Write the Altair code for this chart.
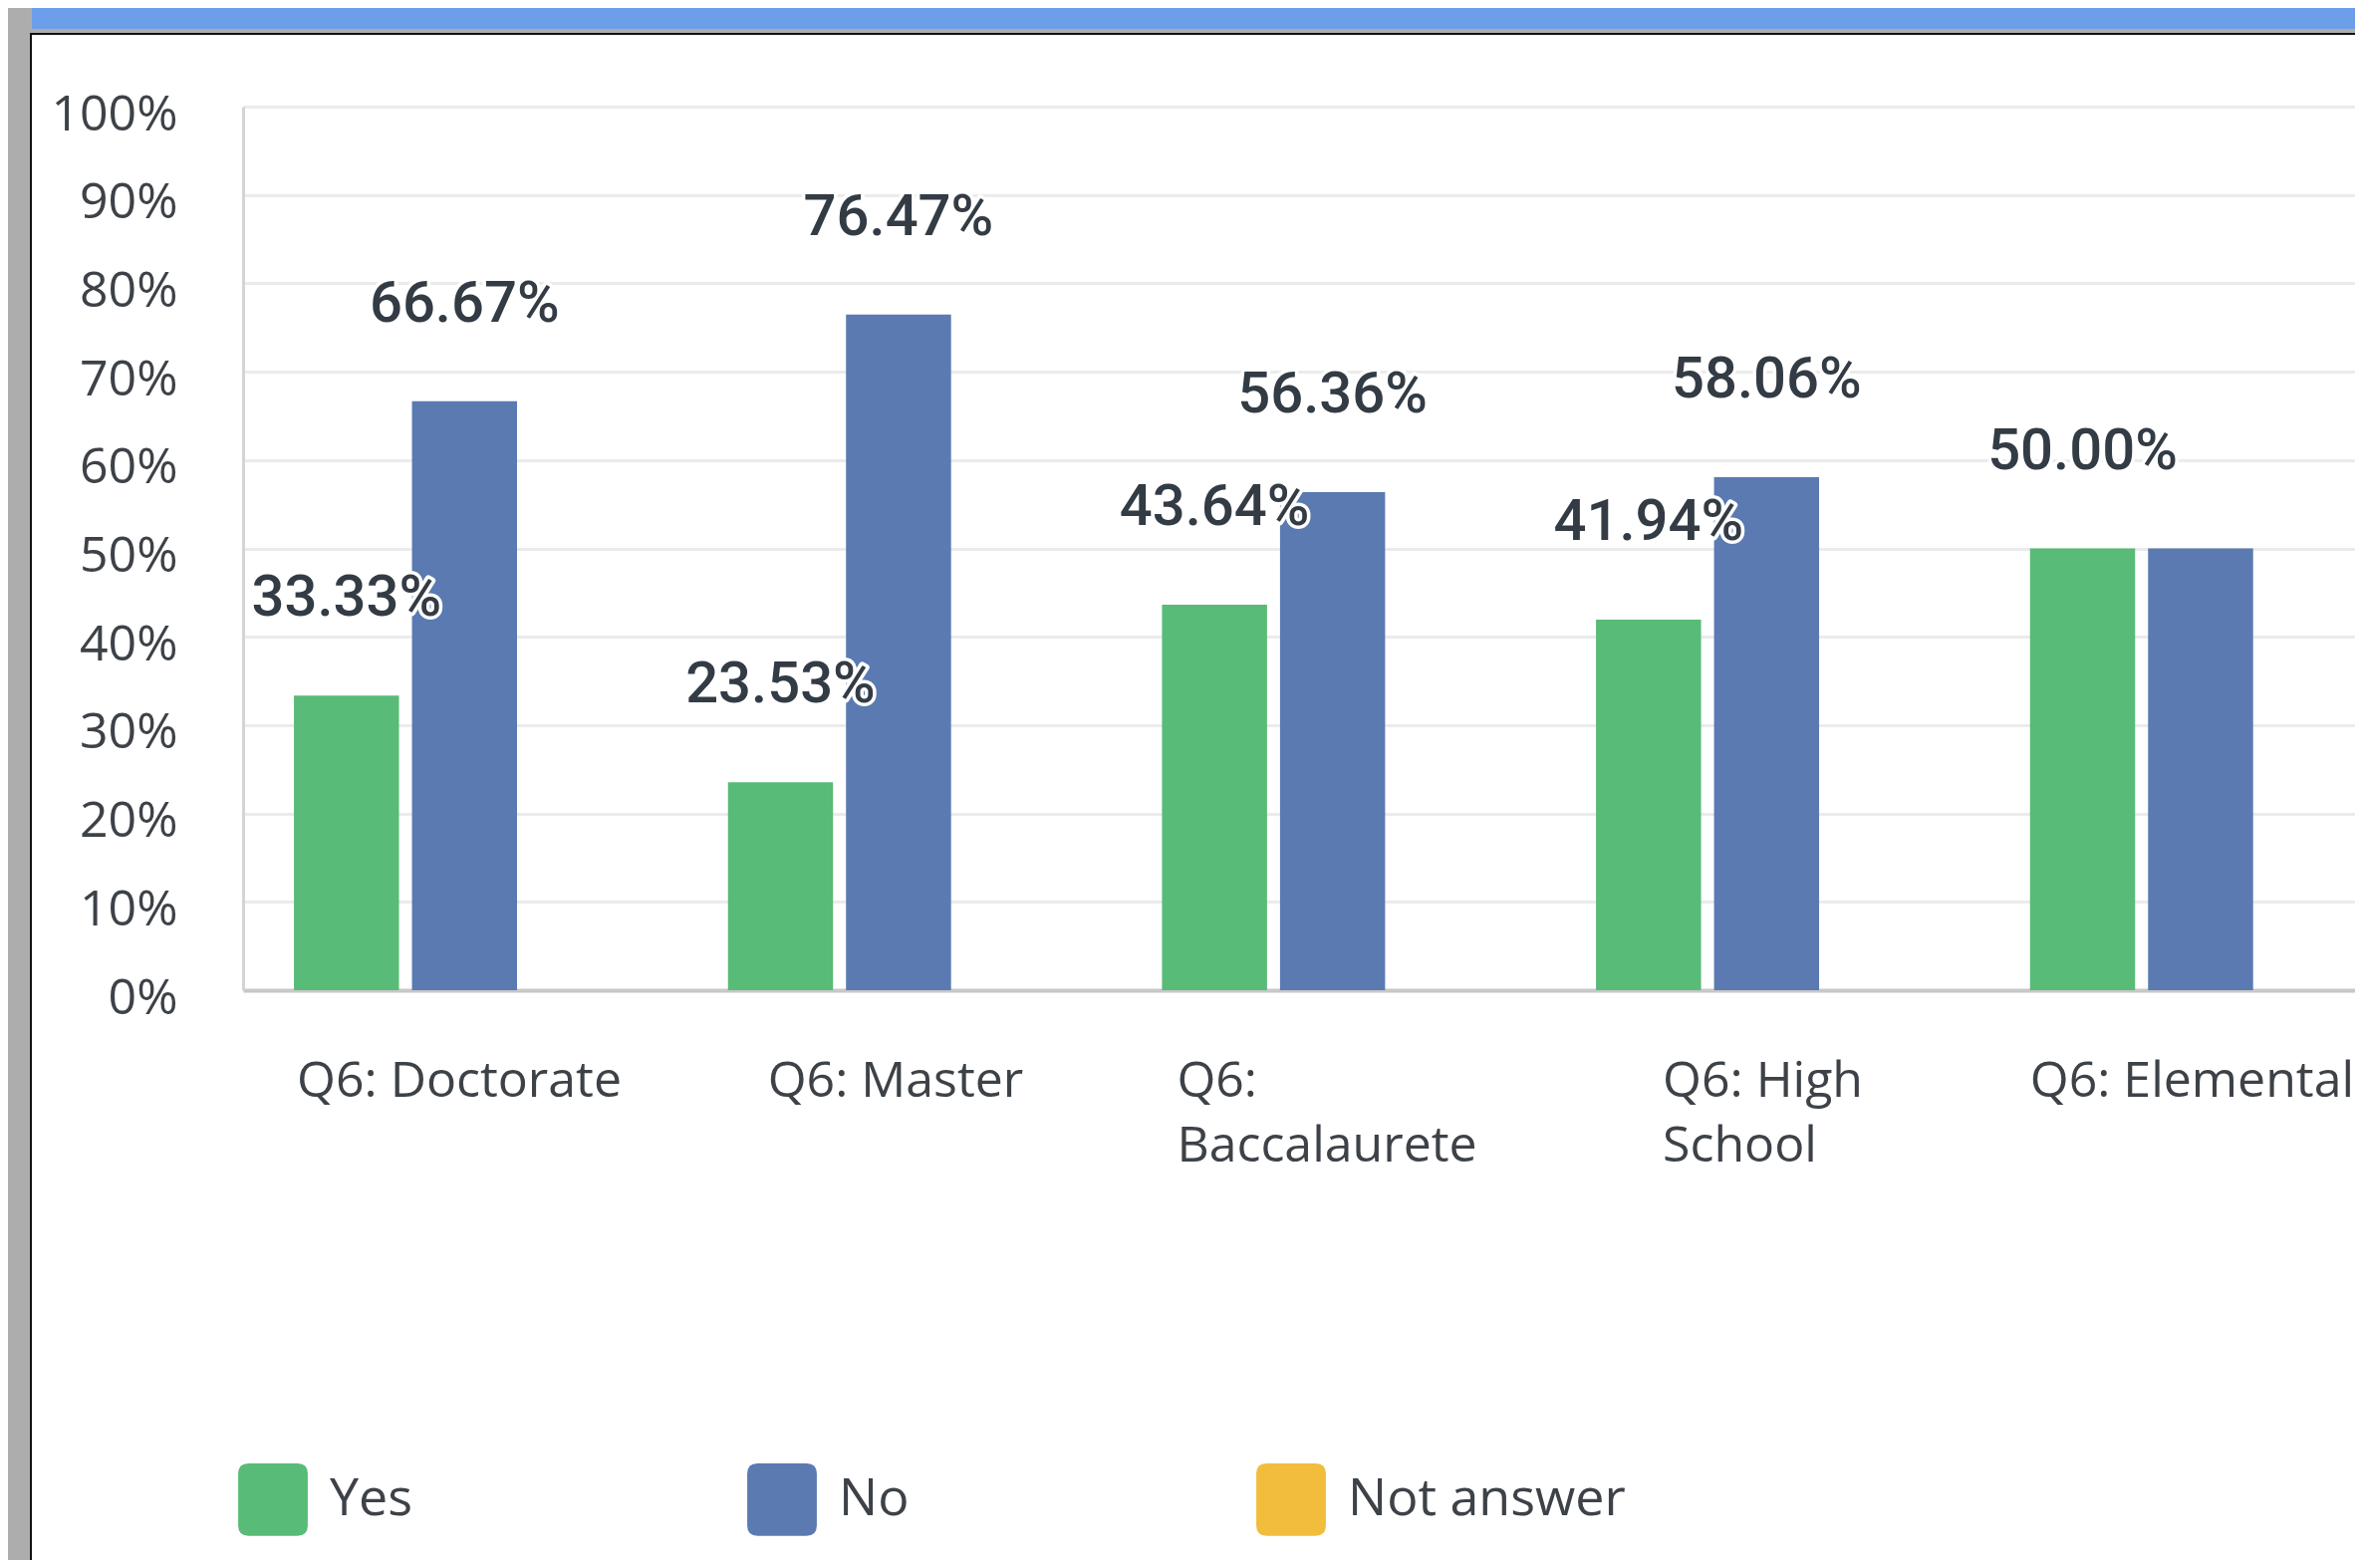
import altair as alt
import pandas as pd

# ---------------- data ----------------
categories = ["Q6: Doctorate", "Q6: Master", "Q6: Baccalaurete", "Q6: High School", "Q6: Elemental"]
yes_pct = [33.33, 23.53, 43.64, 41.94, 50.00]
no_pct = [66.67, 76.47, 56.36, 58.06, 50.00]
series_names = ["Yes", "No", "Not answer"]
series_colors = ["#58bb77", "#5a7ab1", "#f2bd3d"]
y_ticks = [0, 0.1, 0.2, 0.3, 0.4, 0.5, 0.6, 0.7, 0.8, 0.9, 1.0]
# labels hidden in the original (overlapping duplicate)
hidden_labels = [("Q6: Elemental", "No")]

rows = []
for c, y, n in zip(categories, yes_pct, no_pct):
    rows.append({"category": c, "series": "Yes", "value": y / 100})
    rows.append({"category": c, "series": "No", "value": n / 100})
df = pd.DataFrame(rows)
df["show_label"] = [(r.category, r.series) not in hidden_labels for r in df.itertuples()]

# ---------------- styling ----------------
FONT = "Open Sans"
VALUE_FONT = "Roboto"
TEXT_COLOR = "#333b44"
AXIS_TEXT = "#3d4248"

# x label left offsets (labels are left-aligned lines, block centred slightly right of group)
x_label_offsets = {
    "Q6: Doctorate": -109,
    "Q6: Master": -72,
    "Q6: Baccalaurete": -97,
    "Q6: High School": -45,
    "Q6: Elemental": -112,
}
label_offset_cond = {
    "condition": [
        {"test": f"datum.value === '{k}'", "value": v} for k, v in x_label_offsets.items()
    ],
    "value": -100,
}
label_expr = (
    "datum.label == 'Q6: Baccalaurete' ? ['Q6:', 'Baccalaurete'] : "
    "datum.label == 'Q6: High School' ? ['Q6: High', 'School'] : datum.label"
)

x_enc = alt.X(
    "category:N",
    sort=categories,
    title=None,
    scale=alt.Scale(paddingInner=0.486, paddingOuter=0.176, align=0.333),
    axis=alt.Axis(
        labelAlign="left",
        labelBaseline="top",
        labelOffset=label_offset_cond,
        labelExpr=label_expr,
        labelAngle=0,
        labelFont=FONT,
        labelFontSize=50,
        labelFontWeight=400,
        labelColor=AXIS_TEXT,
        labelPadding=66,
        labelLineHeight=65,
        labelLimit=1000,
        labelOverlap=False,
        ticks=False,
        domainColor="#c8c8c8",
        domainWidth=4,
        grid=False,
    ),
)
xoff_enc = alt.XOffset(
    "series:N", sort=["Yes", "No"], scale=alt.Scale(paddingInner=0.11, paddingOuter=0)
)
y_enc = alt.Y(
    "value:Q",
    scale=alt.Scale(domain=[0, 1], nice=False),
    axis=alt.Axis(
        values=y_ticks,
        format=".0%",
        title=None,
        labelFont=FONT,
        labelFontSize=50,
        labelFontWeight=400,
        labelColor=AXIS_TEXT,
        labelPadding=66,
        labelOffset=8,
        ticks=False,
        domainColor="#d4d4d4",
        domainWidth=3,
        gridColor="#ebebeb",
        gridWidth=3,
    ),
)

rounded = ("M-0.68,-1.01 L0.68,-1.01 Q0.97,-1.01 0.97,-0.72 L0.97,0.72 Q0.97,1.01 0.68,1.01 "
           "L-0.68,1.01 Q-0.97,1.01 -0.97,0.72 L-0.97,-0.72 Q-0.97,-1.01 -0.68,-1.01 Z")

color_enc = alt.Color(
    "series:N",
    scale=alt.Scale(domain=series_names, range=series_colors),
    legend=alt.Legend(
        orient="none",
        legendX=-6,
        legendY=1362,
        direction="horizontal",
        title=None,
        symbolType=rounded,
        symbolSize=5184,
        symbolStrokeWidth=0,
        symbolOpacity=1,
        labelFont=FONT,
        labelFontSize=52,
        labelFontWeight=400,
        labelColor=AXIS_TEXT,
        labelOffset=21,
        columnPadding=139,
        gridAlign="all",
        labelLimit=600,
        padding=0,
    ),
)

base = alt.Chart(df)

bars = base.mark_bar().encode(x=x_enc, xOffset=xoff_enc, y=y_enc, color=color_enc)

text_enc = dict(
    x=alt.X("category:N", sort=categories),
    xOffset=alt.XOffset("series:N", sort=["Yes", "No"]),
    y=alt.Y("value:Q"),
    text=alt.Text("value:Q", format=".2%"),
)
halo = (
    base.transform_filter("datum.show_label")
    .mark_text(font=VALUE_FONT, fontSize=58, fontWeight=500, baseline="middle", dy=-97,
               stroke="white", strokeWidth=7, strokeJoin="round", fill="white")
    .encode(**text_enc)
)
labels = (
    base.transform_filter("datum.show_label")
    .mark_text(font=VALUE_FONT, fontSize=58, fontWeight=500, baseline="middle", dy=-97,
               color=TEXT_COLOR)
    .encode(**text_enc)
)

# ---------------- screenshot frame decoration ----------------
deco_data = alt.Data(values=[{}])
frame_gray_left = alt.Chart(deco_data).mark_rect(color="#adadad").encode(
    x=alt.value(-236), x2=alt.value(-212), y=alt.value(-99), y2=alt.value(1459))
frame_gray_top = alt.Chart(deco_data).mark_rect(color="#adadad").encode(
    x=alt.value(-236), x2=alt.value(2120), y=alt.value(-99), y2=alt.value(-73))
frame_blue = alt.Chart(deco_data).mark_rect(color="#6d9eea").encode(
    x=alt.value(-212), x2=alt.value(2120), y=alt.value(-99), y2=alt.value(-78))
frame_line_v = alt.Chart(deco_data).mark_rect(color="#111111").encode(
    x=alt.value(-214), x2=alt.value(-212), y=alt.value(-74), y2=alt.value(1459))
frame_line_h = alt.Chart(deco_data).mark_rect(color="#111111").encode(
    x=alt.value(-214), x2=alt.value(2120), y=alt.value(-74), y2=alt.value(-72))

chart = (
    alt.layer(frame_gray_left, frame_gray_top, frame_blue, frame_line_v, frame_line_h,
              bars, halo, labels)
    .properties(
        width=2120,
        height=887,
        padding={"left": 236, "top": 99, "right": 0, "bottom": 572},
        autosize=alt.AutoSizeParams(type="none"),
        background="white",
    )
    .configure_view(strokeWidth=0)
)

chart.save("out.html", embed_options={"renderer": "svg", "actions": False})
